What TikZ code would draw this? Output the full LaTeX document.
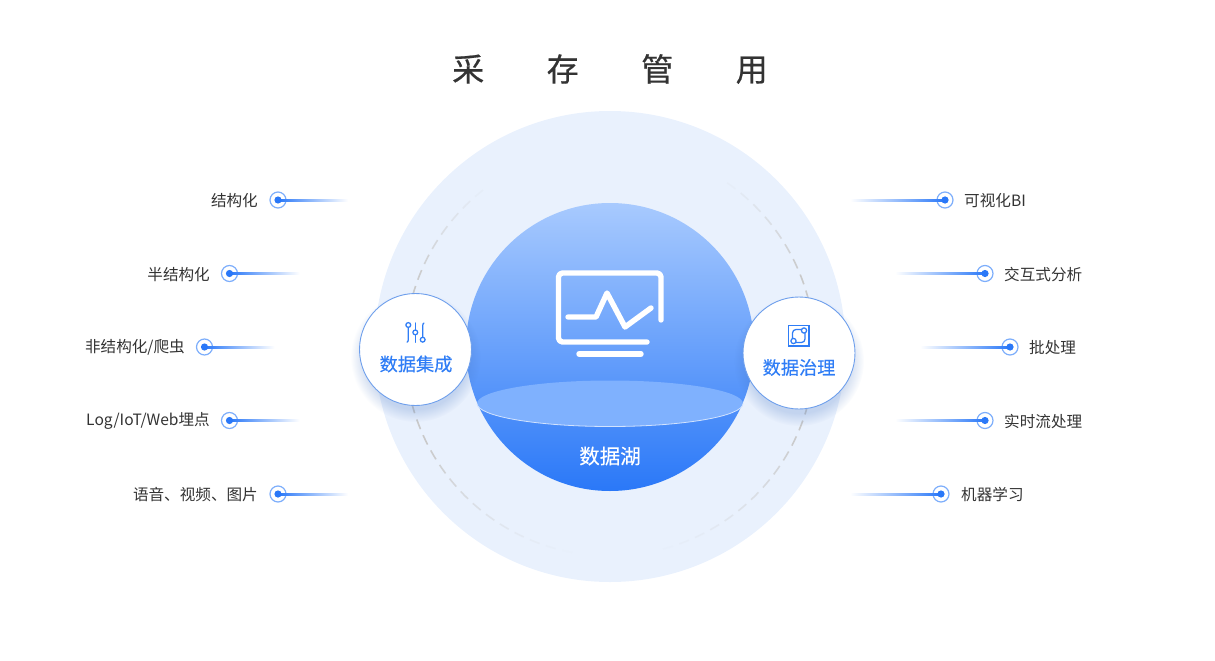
\documentclass[tikz,border=0pt]{standalone}
\usepackage{fontspec}
\setmainfont{Noto Sans CJK SC}
\newfontfamily\heavyfont{Noto Sans CJK SC}[FakeBold=0.25]
\newfontfamily\titlefont{Noto Sans CJK SC}[FakeBold=0.6]
\usetikzlibrary{calc,fadings}
\definecolor{cpale}{HTML}{E9F1FD}
\definecolor{ctop}{HTML}{A8CAFE}
\definecolor{cmiddle}{HTML}{6BA3FC}
\definecolor{cblue}{HTML}{2A78F8}
\definecolor{clens}{HTML}{7FB1FE}
\definecolor{cring}{HTML}{7DAEFB}
\definecolor{cedge}{HTML}{6E9FEC}
\definecolor{cshadow}{HTML}{3F6FBE}
\definecolor{ctext}{HTML}{333333}
\definecolor{cword}{HTML}{2F7DF6}
\definecolor{cdash}{HTML}{C9C9C9}
\tikzset{
  lab/.style={font=\fontsize{15.6}{16}\selectfont,text=ctext,inner sep=0pt,yshift=-.6pt},
  word/.style={font=\heavyfont\fontsize{18.2}{18.5}\selectfont,text=cword,inner sep=0pt},
  marker/.style={circle,draw=cring,line width=1.2pt,fill=white,minimum size=16pt,inner sep=0pt},
  lineL/.style={left color=cblue,middle color=cblue!42!white,right color=white},
  lineR/.style={left color=white,middle color=cblue!42!white,right color=cblue},
  hub/.style={circle,draw=cedge,line width=.9pt,fill=white,minimum size=112pt,inner sep=0pt},
  icon/.style={cword,line width=1.25pt,line cap=round},
  scr/.style={white,line width=5.4pt,line cap=round,line join=round},
  hubshadow/.style={cshadow,opacity=.22,path fading=circle with fuzzy edge 20 percent},
}
\begin{document}
\begin{tikzpicture}[x=1pt,y=-1pt]
\useasboundingbox (0,0) rectangle (1215,661);
\node[font=\titlefont\fontsize{32}{32}\selectfont,text=ctext,inner sep=0pt] (title) at (610,69) {采\hspace{62.5pt}存\hspace{62.5pt}管\hspace{62.5pt}用};
% big discs
\fill[cpale] (610,346.5) circle (235.5);
\foreach \a in {0,4.75,...,355} {
  \pgfmathsetmacro{\s}{sin(\a)}
  \pgfmathsetmacro{\op}{\s>0 ? max(0,min(1,(.83-\s)/.48)) : max(0,min(1,(.985+\s)/.555))}
  \draw[cdash,line width=1.6pt,opacity=\op] ($(610,351)+(\a:205 and -205)$) arc[start angle=\a,end angle=\a+2.9,x radius=205,y radius=-205];
}
\shade[top color=ctop,middle color=cmiddle,bottom color=cblue] (610,347) circle (144);
\fill[clens] (610,403.5) ellipse (133 and 23);
\draw[white!65!cring,line width=.8pt] (477,403.5) arc[start angle=180,end angle=360,x radius=133,y radius=-23];
\node[font=\heavyfont\fontsize{20.5}{20.5}\selectfont,text=white,inner sep=0pt] (lake) at (610,456) {数据湖};
% screen
\draw[scr] (661,320) -- (661,277) arc[start angle=0,end angle=-90,radius=4] -- (562.5,273) arc[start angle=-90,end angle=-180,radius=4] -- (558.5,338) arc[start angle=180,end angle=90,radius=4] -- (647,342);
\draw[scr] (579,354) -- (641,354);
\draw[scr] (568,317) -- (596,317) -- (607,293) -- (625,327) -- (651,308);
% hubs
\fill[hubshadow] (415.5,357) circle (65);
\fill[hubshadow] (799,361) circle (65);
\node[hub] (collect) at (415.5,349.5) {};
\node[hub] (govern) at (799,353) {};
\node[word] (collectword) at (416,364) {数据集成};
\node[word] (governword) at (799,367.5) {数据治理};
% slider icon
\draw[icon] (408.3,325) circle (2.4) (415.3,332.4) circle (2.4) (422.7,339.7) circle (2.4);
\draw[icon] (408.3,327.4) -- (408.3,339.5) .. controls (408.3,341) and (407.8,342) .. (407,342.3);
\draw[icon] (415.3,323) -- (415.3,330) (415.3,334.8) -- (415.3,342.3);
\draw[icon] (424,323) .. controls (423,323.5) and (422.7,324.5) .. (422.7,326) -- (422.7,337.3);
% square icon
\draw[icon,line cap=butt] (788.5,325.5) rectangle (809,346);
\draw[icon] (801.5,329.5) -- (796,329.5) arc[start angle=-90,end angle=-180,radius=3.5] -- (792.5,338.5) (795.5,342.5) -- (801.5,342.5) arc[start angle=90,end angle=0,radius=3.5] -- (805,333);
\draw[icon,fill=white] (804,330.5) circle (2.6) (793.5,341) circle (2.6);
% left column
\node[marker] (a1) at (278,200) {};
\node[marker] (a2) at (229.5,273.5) {};
\node[marker] (a3) at (204.5,347) {};
\node[marker] (a4) at (229.5,420.5) {};
\node[marker] (a5) at (278,494) {};
\coordinate (ae1) at (348,200);
\coordinate (ae2) at (299.5,273.5);
\coordinate (ae3) at (274.5,347);
\coordinate (ae4) at (299.5,420.5);
\coordinate (ae5) at (348,494);
\shade[lineL] ($(a1.center)+(0,-1)$) rectangle ($(ae1)+(0,1)$);
\shade[lineL] ($(a2.center)+(0,-1)$) rectangle ($(ae2)+(0,1)$);
\shade[lineL] ($(a3.center)+(0,-1)$) rectangle ($(ae3)+(0,1)$);
\shade[lineL] ($(a4.center)+(0,-1)$) rectangle ($(ae4)+(0,1)$);
\shade[lineL] ($(a5.center)+(0,-1)$) rectangle ($(ae5)+(0,1)$);
\fill[cblue] (a1) circle (3.6) (a2) circle (3.6) (a3) circle (3.6) (a4) circle (3.6) (a5) circle (3.6);
\node[lab,anchor=east] (t1) at (258,200) {结构化};
\node[lab,anchor=east] (t2) at (210,273.5) {半结构化};
\node[lab,anchor=east] (t3) at (185,347) {非结构化/爬虫};
\node[lab,anchor=east] (t4) at (210,420.5) {Log/IoT/Web埋点};
\node[lab,anchor=east] (t5) at (258,494) {语音、视频、图片};
% right column
\node[marker] (b1) at (945,200) {};
\node[marker] (b2) at (985,273.5) {};
\node[marker] (b3) at (1010,347) {};
\node[marker] (b4) at (985,420.5) {};
\node[marker] (b5) at (941,494) {};
\coordinate (be1) at (850,200);
\coordinate (be2) at (895,273.5);
\coordinate (be3) at (920,347);
\coordinate (be4) at (895,420.5);
\coordinate (be5) at (850,494);
\shade[lineR] ($(be1)+(0,-1)$) rectangle ($(b1.center)+(0,1)$);
\shade[lineR] ($(be2)+(0,-1)$) rectangle ($(b2.center)+(0,1)$);
\shade[lineR] ($(be3)+(0,-1)$) rectangle ($(b3.center)+(0,1)$);
\shade[lineR] ($(be4)+(0,-1)$) rectangle ($(b4.center)+(0,1)$);
\shade[lineR] ($(be5)+(0,-1)$) rectangle ($(b5.center)+(0,1)$);
\fill[cblue] (b1) circle (3.6) (b2) circle (3.6) (b3) circle (3.6) (b4) circle (3.6) (b5) circle (3.6);
\node[lab,anchor=west] (s1) at (964,200) {可视化BI};
\node[lab,anchor=west] (s2) at (1004,273.5) {交互式分析};
\node[lab,anchor=west] (s3) at (1029,347) {批处理};
\node[lab,anchor=west] (s4) at (1004,420.5) {实时流处理};
\node[lab,anchor=west] (s5) at (961,494) {机器学习};
\end{tikzpicture}
\end{document}
